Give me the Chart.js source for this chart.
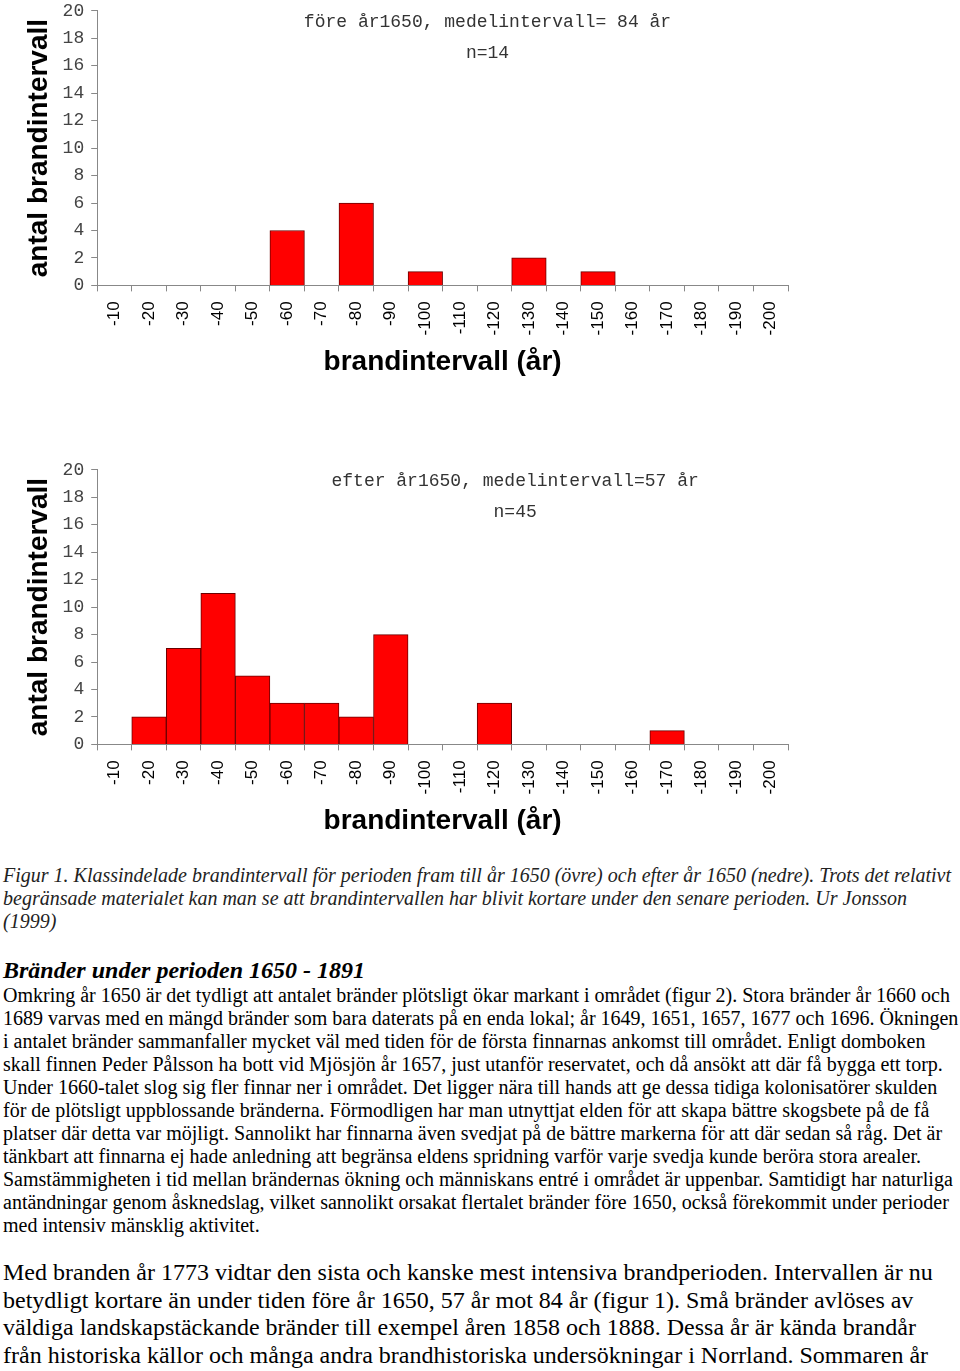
<!DOCTYPE html>
<html>
<head>
<meta charset="utf-8">
<script src="https://cdn.jsdelivr.net/npm/chart.js@4"></script>
<style>
  body { margin: 0; background: #fff; width: 960px; height: 1371px; overflow: hidden; position: relative; }
  .chartBox { position: absolute; left: 0; width: 960px; height: 396px; }
  .txt { position: absolute; left: 3px; white-space: nowrap; font-family: "Liberation Serif", "Times New Roman", serif; color: #000; }
  #caption { top: 864px; font-size: 20px; line-height: 23px; font-style: italic; color: #222; }
  #heading { top: 956px; font-size: 24px; line-height: 28px; font-style: italic; font-weight: bold; }
  #body1 { top: 984px; font-size: 20px; line-height: 23px; }
  #body2 { top: 1259px; font-size: 24px; line-height: 27.6px; }
</style>
</head>
<body>
<div class="chartBox" style="top:-7px"><canvas id="chartBefore"></canvas></div>
<div class="chartBox" style="top:452px"><canvas id="chartAfter"></canvas></div>

<div class="txt" id="caption">Figur 1. Klassindelade brandintervall för perioden fram till år 1650 (övre) och efter år 1650 (nedre). Trots det relativt<br>begränsade materialet kan man se att brandintervallen har blivit kortare under den senare perioden. Ur Jonsson<br>(1999)</div>
<div class="txt" id="heading">Bränder under perioden 1650 - 1891</div>
<div class="txt" id="body1">Omkring år 1650 är det tydligt att antalet bränder plötsligt ökar markant i området (figur 2). Stora bränder år 1660 och<br>1689 varvas med en mängd bränder som bara daterats på en enda lokal; år 1649, 1651, 1657, 1677 och 1696. Ökningen<br>i antalet bränder sammanfaller mycket väl med tiden för de första finnarnas ankomst till området. Enligt domboken<br>skall finnen Peder Pålsson ha bott vid Mjösjön år 1657, just utanför reservatet, och då ansökt att där få bygga ett torp.<br>Under 1660-talet slog sig fler finnar ner i området. Det ligger nära till hands att ge dessa tidiga kolonisatörer skulden<br>för de plötsligt uppblossande bränderna. Förmodligen har man utnyttjat elden för att skapa bättre skogsbete på de få<br>platser där detta var möjligt. Sannolikt har finnarna även svedjat på de bättre markerna för att där sedan så råg. Det är<br>tänkbart att finnarna ej hade anledning att begränsa eldens spridning varför varje svedja kunde beröra stora arealer.<br>Samstämmigheten i tid mellan brändernas ökning och människans entré i området är uppenbar. Samtidigt har naturliga<br>antändningar genom åsknedslag, vilket sannolikt orsakat flertalet bränder före 1650, också förekommit under perioder<br>med intensiv mänsklig aktivitet.</div>
<div class="txt" id="body2">Med branden år 1773 vidtar den sista och kanske mest intensiva brandperioden. Intervallen är nu<br>betydligt kortare än under tiden före år 1650, 57 år mot 84 år (figur 1). Små bränder avlöses av<br>väldiga landskapstäckande bränder till exempel åren 1858 och 1888. Dessa år är kända brandår<br>från historiska källor och många andra brandhistoriska undersökningar i Norrland. Sommaren år</div>

<script>
// brandintervall classes (years)
const intervalLabels = ["-10", "-20", "-30", "-40", "-50", "-60", "-70", "-80", "-90", "-100",
  "-110", "-120", "-130", "-140", "-150", "-160", "-170", "-180", "-190", "-200"];

// antal brandintervall per class
const countsBefore1650 = [0, 0, 0, 0, 0, 4, 0, 6, 0, 1, 0, 0, 2, 0, 1, 0, 0, 0, 0, 0];
const countsAfter1650 = [0, 2, 7, 11, 5, 3, 3, 2, 8, 0, 0, 3, 0, 0, 0, 0, 1, 0, 0, 0];

const titleBefore = ["före år1650, medelintervall= 84 år", "n=14"];
const titleAfter = ["efter år1650, medelintervall=57 år", "n=45"];

const yMin = 0, yMax = 20, yStep = 2;

// title is drawn inside the plot area, like in the original figure
const insideTitle = {
  id: "insideTitle",
  afterDraw(chart, args, opts) {
    const c = chart.ctx;
    const area = chart.chartArea;
    c.save();
    c.font = "18px 'Liberation Mono', monospace";
    c.fillStyle = "#333";
    c.textAlign = "center";
    c.textBaseline = "middle";
    const cx = area.left + opts.centerX * (area.right - area.left);
    opts.lines.forEach((line, i) => {
      c.fillText(line, cx, area.top + 11 + i * 31);
    });
    c.restore();
  }
};

function makeChart(id, counts, titleLines, centerX) {
  return new Chart(document.getElementById(id).getContext("2d"), {
    type: "bar",
    data: {
      labels: intervalLabels,
      datasets: [{
        data: counts,
        backgroundColor: "#ff0000",
        borderColor: "#6b0000",
        borderWidth: 1,
        barPercentage: 1,
        categoryPercentage: 1
      }]
    },
    plugins: [insideTitle],
    options: {
      responsive: true,
      maintainAspectRatio: false,
      animation: false,
      layout: { padding: { left: 22, right: 172, top: 0, bottom: 6 } },
      plugins: {
        legend: { display: false },
        tooltip: { enabled: false },
        insideTitle: { lines: titleLines, centerX: centerX }
      },
      scales: {
        x: {
          grid: { drawOnChartArea: false, tickLength: 6, color: "#888" },
          border: { color: "#888" },
          ticks: {
            autoSkip: false,
            minRotation: 90,
            maxRotation: 90,
            padding: 10,
            color: "#000",
            font: { family: "'Liberation Sans', Arial", size: 17 }
          },
          title: {
            display: true,
            text: "brandintervall (år)",
            color: "#000",
            padding: { top: 0, bottom: 4 },
            font: { family: "'Liberation Sans', Arial", size: 28, weight: "bold" }
          }
        },
        y: {
          min: yMin,
          max: yMax,
          grid: { drawOnChartArea: false, tickLength: 6, color: "#888" },
          border: { color: "#888" },
          ticks: {
            stepSize: yStep,
            padding: 7,
            color: "#444",
            font: { family: "'Liberation Mono', monospace", size: 18 }
          },
          title: {
            display: true,
            text: "antal brandintervall",
            color: "#000",
            padding: { top: 0, bottom: 0 },
            font: { family: "'Liberation Sans', Arial", size: 28, weight: "bold" }
          }
        }
      }
    }
  });
}

makeChart("chartBefore", countsBefore1650, titleBefore, 0.565);
makeChart("chartAfter", countsAfter1650, titleAfter, 0.605);
</script>
</body>
</html>
